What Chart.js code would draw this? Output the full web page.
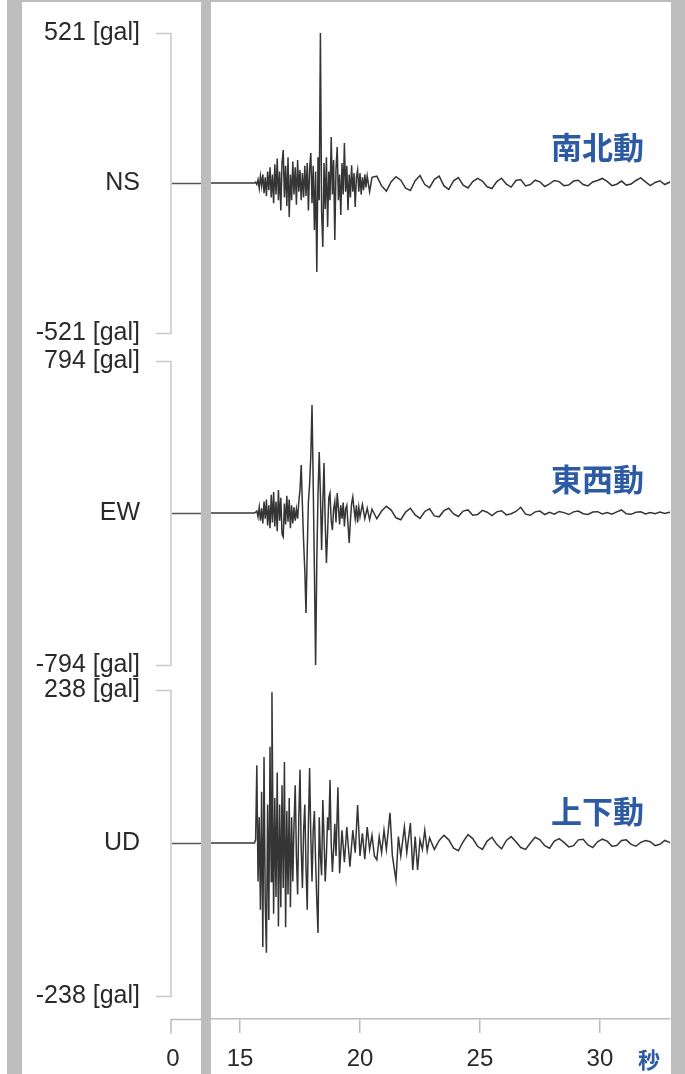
<!DOCTYPE html>
<html>
<head>
<meta charset="utf-8">
<script src="https://cdn.jsdelivr.net/npm/chart.js@4.4.1/dist/chart.umd.min.js"></script>
<style>
  html, body { margin: 0; padding: 0; background: #fff; }
  #wrap { position: relative; width: 685px; height: 1074px; overflow: hidden; }
  canvas { position: absolute; left: 0; top: 0; filter: blur(0.45px); }
  .bar { position: absolute; background: #bdbdbd; }
  .lbl { position: absolute; font-family: "Noto Sans CJK JP", sans-serif; font-weight: 700; color: #2d5ba3; white-space: nowrap; }
</style>
</head>
<body>
<div id="wrap">
  <canvas id="c" width="685" height="1074"></canvas>
  <div class="bar" style="left:7px;top:0;width:15px;height:1074px"></div>
  <div class="bar" style="left:201px;top:0;width:10px;height:1074px"></div>
  <div class="bar" style="left:671px;top:0;width:14px;height:1074px"></div>
  <div class="bar" style="left:7px;top:0;width:678px;height:2px"></div>
  <div class="lbl" style="left:551px;top:125px;font-size:31px;line-height:42px">南北動</div>
  <div class="lbl" style="left:551px;top:457px;font-size:31px;line-height:42px">東西動</div>
  <div class="lbl" style="left:551px;top:789px;font-size:31px;line-height:42px">上下動</div>
  <div class="lbl" style="left:638px;top:1044px;font-size:22px;line-height:28px">秒</div>
</div>
<script>
// ---- data (time [s], acceleration [gal]) ----
const X_TICKS = [15, 20, 25, 30];
const NS_TICKS = [-521, 0, 521];
const EW_TICKS = [-794, 0, 794];
const UD_TICKS = [-238, 0, 238];
const TRACE_NAMES = ['NS', 'EW', 'UD'];

const NS_TRACE = [
[13.7,0],[15.6,0],[15.65,3],
[15.70,-5],[15.75,12],[15.80,-18],[15.85,25],[15.90,-10],[15.95,30],[16.00,-35],[16.05,20],[16.10,-45],[16.15,40],[16.20,-25],[16.25,55],[16.30,-50],[16.35,30],[16.40,-70],[16.45,65],[16.50,-40],[16.55,85],[16.60,-60],[16.65,40],[16.70,-95],[16.75,70],[16.80,115],[16.85,-50],[16.90,60],[16.95,-80],[17.00,90],[17.05,-118],[17.10,30],[17.15,-60],[17.20,75],[17.25,-40],[17.30,55],[17.35,-75],[17.40,80],[17.45,-30],[17.50,45],[17.55,-60],[17.60,35],[17.65,-50],[17.70,60],[17.75,-45],[17.80,70],[17.85,-95],[17.90,50],[17.95,104],[18.00,-70],[18.05,60],[18.10,-163],[18.15,40],[18.20,-309],[18.25,90],[18.30,-60],[18.35,521],[18.40,-100],[18.45,-222],[18.50,70],[18.55,-90],[18.60,90],[18.65,-153],[18.70,40],[18.75,-60],[18.80,160],[18.85,-40],[18.90,80],[18.95,-198],[19.00,50],[19.05,125],[19.10,-60],[19.15,30],[19.20,-111],[19.25,70],[19.30,-40],[19.35,139],[19.40,-30],[19.45,60],[19.50,-94],[19.55,30],[19.60,-50],[19.65,62],[19.70,-30],[19.75,35],[19.80,-83],[19.85,20],[19.90,45],[19.95,-30],[20.00,35],[20.05,-40],[20.10,20],[20.15,-25],[20.20,30],[20.25,-15],[20.30,25],[20.40,-30],[20.50,20],
[20.7,24],[20.9,-10],[21.1,-28],[21.3,5],[21.5,22],[21.7,10],[21.9,-18],[22.1,-26],[22.3,8],[22.5,26],[22.7,-5],[22.9,-16],[23.1,13],[23.3,24],[23.5,-10],[23.7,-22],[23.9,8],[24.1,19],[24.3,-7],[24.5,-17],[24.7,5],[24.9,16],[25.1,7],[25.3,-13],[25.5,-19],[25.7,5],[25.9,17],[26.1,-4],[26.3,-14],[26.5,9],[26.7,12],[26.9,-10],[27.1,-5],[27.3,10],[27.5,4],[27.7,-12],[27.9,-3],[28.1,9],[28.3,5],[28.5,-9],[28.7,-7],[28.9,7],[29.1,10],[29.3,-5],[29.5,-10],[29.7,4],[29.9,9],[30.1,16],[30.3,6],[30.5,-9],[30.7,-4],[30.9,7],[31.1,-7],[31.3,-3],[31.5,9],[31.7,18],[31.9,4],[32.1,-9],[32.3,2],[32.5,8],[32.7,-5],[32.9,3],[33.0,-2]
];

const EW_TRACE = [
[13.7,0],[15.6,0],[15.65,4],
[15.70,10],[15.75,-20],[15.80,30],[15.85,-40],[15.90,25],[15.95,-55],[16.00,60],[16.05,-30],[16.10,70],[16.15,-65],[16.20,40],[16.25,-80],[16.30,95],[16.35,-50],[16.40,110],[16.45,-70],[16.50,60],[16.55,-95],[16.60,120],[16.65,-40],[16.70,80],[16.75,-110],[16.80,-125],[16.85,50],[16.90,-60],[16.95,90],[17.00,-45],[17.05,70],[17.10,-80],[17.15,40],[17.20,-55],[17.25,30],[17.30,-40],[17.35,20],[17.40,-30],[17.45,60],[17.50,120],[17.55,250],[17.60,40],[17.65,-150],[17.70,-300],[17.75,-522],[17.80,-200],[17.85,60],[17.90,150],[17.95,300],[18.00,564],[18.05,150],[18.10,-300],[18.15,-794],[18.20,-250],[18.25,100],[18.30,318],[18.35,100],[18.40,-193],[18.45,50],[18.50,261],[18.55,-50],[18.60,-261],[18.65,-100],[18.70,80],[18.75,104],[18.80,-40],[18.85,-89],[18.90,20],[18.95,60],[19.00,-50],[19.05,104],[19.10,30],[19.15,-60],[19.20,40],[19.25,-30],[19.30,55],[19.35,-70],[19.40,20],[19.45,40],[19.50,-60],[19.55,-157],[19.60,-40],[19.65,50],[19.70,84],[19.75,20],[19.80,-30],[19.85,40],[19.90,-50],[19.95,30],[20.00,-20],[20.10,45],[20.20,-30],[20.30,25],[20.40,-35],[20.50,20],
[20.7,-30],[20.9,10],[21.1,35],[21.3,15],[21.5,-25],[21.7,-35],[21.9,5],[22.1,25],[22.3,-10],[22.5,-28],[22.7,8],[22.9,22],[23.1,-15],[23.3,-20],[23.5,12],[23.7,25],[23.9,-5],[24.1,-18],[24.3,10],[24.5,16],[24.7,-12],[24.9,-8],[25.1,14],[25.3,4],[25.5,-14],[25.7,6],[25.9,12],[26.1,-10],[26.3,-4],[26.5,8],[26.7,30],[26.9,-6],[27.1,-12],[27.3,6],[27.5,10],[27.7,-8],[27.9,4],[28.1,-6],[28.3,8],[28.5,2],[28.7,-8],[28.9,6],[29.1,10],[29.3,-4],[29.5,-8],[29.7,5],[29.9,7],[30.1,-5],[30.3,3],[30.5,-6],[30.7,6],[30.9,16],[31.1,-4],[31.3,-7],[31.5,4],[31.7,6],[31.9,-5],[32.1,3],[32.3,-4],[32.5,5],[32.7,-3],[32.9,4],[33.0,-2]
];

const UD_TRACE = [
[13.7,0],[15.6,0],[15.65,5],
[15.70,121],[15.75,-60],[15.80,40],[15.85,-104],[15.90,80],[15.95,-162],[16.00,134],[16.05,-90],[16.10,-171],[16.15,60],[16.20,-120],[16.25,150],[16.30,-60],[16.33,235],[16.40,-110],[16.45,70],[16.50,-84],[16.55,110],[16.60,-130],[16.65,60],[16.70,-100],[16.75,90],[16.80,-70],[16.85,126],[16.90,-131],[16.95,50],[17.00,-80],[17.05,70],[17.10,-100],[17.15,40],
[17.20,-60],[17.25,30],[17.30,90],[17.35,-20],[17.40,-80],[17.45,40],[17.50,114],[17.55,-10],[17.60,-70],[17.65,20],[17.70,60],[17.75,-40],[17.80,-104],[17.85,30],[17.90,117],[17.95,10],[18.00,-60],[18.05,20],[18.10,50],[18.15,-30],[18.20,-90],[18.25,-140],[18.30,40],[18.35,-20],[18.40,-50],[18.45,67],[18.50,10],[18.55,-60],[18.60,-20],[18.65,40],[18.70,20],[18.75,98],[18.80,0],[18.85,-45],[18.90,-10],[18.95,30],[19.00,-20],[19.08,87],[19.15,-47],[19.25,20],[19.35,-30],[19.45,25],[19.58,-37],[19.7,20],[19.8,-15],[19.9,59],[20.0,-20],[20.1,15],[20.2,-25],[20.3,25],[20.4,-10],[20.5,12],[20.6,-20],[20.7,-26],[20.8,10],[20.9,-15],[21.0,20],[21.1,-10],[21.25,47],[21.35,-20],[21.5,-58],[21.6,10],[21.7,-20],[21.85,25],[21.95,-15],[22.1,31],[22.2,-42],[22.3,10],[22.4,-42],[22.5,5],[22.6,-10],[22.7,20],[22.8,-12],[22.9,8],
[23.1,-10],[23.3,4],[23.5,12],[23.7,5],[23.9,-8],[24.1,-12],[24.3,2],[24.5,13],[24.7,7],[24.9,-5],[25.1,-10],[25.3,3],[25.5,9],[25.7,-2],[25.9,-9],[26.1,4],[26.3,10],[26.5,2],[26.7,-7],[26.9,-10],[27.1,0],[27.3,9],[27.5,5],[27.7,-4],[27.9,-8],[28.1,3],[28.3,7],[28.5,1],[28.7,-6],[28.9,-4],[29.1,5],[29.3,6],[29.5,-3],[29.7,-7],[29.9,2],[30.1,6],[30.3,3],[30.5,-5],[30.7,-4],[30.9,4],[31.1,5],[31.3,-2],[31.5,-5],[31.7,1],[31.9,4],[32.1,2],[32.3,-4],[32.5,-2],[32.7,4],[32.9,1],[33.0,-2]
];

// ---- chart ----
const TXT = '#2a2a2a';
const AXIS_FONT = { family: "'Liberation Sans', Arial, sans-serif", size: 25 };
const LINE = 'rgba(25,25,25,0.88)';

function toPts(arr) { return arr.map(p => ({ x: p[0], y: p[1] })); }

function yScale(ticksArr, name, min, max, weight, stackWeight) {
  return {
    type: 'linear', position: 'left', stack: 'traces', stackWeight: stackWeight, weight: weight,
    min: min, max: max,
    grid: { display: false, drawTicks: false },
    border: { display: false },
    afterBuildTicks: s => { s.ticks = ticksArr.map(v => ({ value: v })); },
    afterFit: s => { s.width = 211; s.paddingTop = 0; s.paddingBottom = 0; },
    ticks: {
      padding: 71, color: TXT, font: AXIS_FONT, autoSkip: false,
      callback: v => (v === 0 ? name : v + ' [gal]')
    }
  };
}

const leftPanel = {
  id: 'leftPanel',
  afterDraw(chart) {
    const ctx = chart.ctx;
    const area = chart.chartArea;
    ctx.save();
    [['yNS', NS_TICKS], ['yEW', EW_TICKS], ['yUD', UD_TICKS]].forEach(([id, tk]) => {
      const s = chart.scales[id];
      const top = Math.round(s.getPixelForValue(tk[2])) + 0.5;
      const bot = Math.round(s.getPixelForValue(tk[0])) + 0.5;
      const zero = Math.round(s.getPixelForValue(0)) + 0.5;
      ctx.strokeStyle = '#c9c9c9';
      ctx.lineWidth = 1.5;
      ctx.beginPath();
      ctx.moveTo(156, top); ctx.lineTo(171, top); ctx.lineTo(171, bot); ctx.lineTo(156, bot);
      ctx.stroke();
      ctx.strokeStyle = '#555';
      ctx.lineWidth = 1.5;
      ctx.beginPath();
      ctx.moveTo(172, zero); ctx.lineTo(201, zero);
      ctx.stroke();
    });
    const y = area.bottom + 0.5;
    ctx.strokeStyle = '#bbb';
    ctx.lineWidth = 1.5;
    ctx.beginPath();
    ctx.moveTo(171, y); ctx.lineTo(201, y);
    ctx.moveTo(171, y); ctx.lineTo(171, y + 14);
    ctx.stroke();
    ctx.fillStyle = TXT;
    ctx.font = "24px 'Liberation Sans', Arial, sans-serif";
    ctx.textAlign = 'center';
    ctx.textBaseline = 'middle';
    ctx.fillText('0', 173, area.bottom + 40);
    ctx.restore();
  }
};

const ds = (data, axis, label) => ({
  label: label, data: toPts(data), yAxisID: axis,
  borderColor: LINE, borderWidth: 1.5, pointRadius: 0, tension: 0, fill: false
});

new Chart(document.getElementById('c'), {
  type: 'line',
  data: {
    datasets: [
      ds(NS_TRACE, 'yNS', TRACE_NAMES[0]),
      ds(EW_TRACE, 'yEW', TRACE_NAMES[1]),
      ds(UD_TRACE, 'yUD', TRACE_NAMES[2])
    ]
  },
  options: {
    responsive: false,
    animation: false,
    devicePixelRatio: 1,
    layout: { padding: { left: 0, right: 15, top: 0, bottom: 0 } },
    plugins: { legend: { display: false }, tooltip: { enabled: false } },
    scales: {
      x: {
        type: 'linear', position: 'bottom', min: 13.79, max: 32.92,
        afterBuildTicks: s => { s.ticks = X_TICKS.map(v => ({ value: v })); },
        afterFit: s => { s.height = 55; },
        grid: { display: true, drawOnChartArea: false, drawTicks: true, tickLength: 14, color: '#bbb', lineWidth: 1.5 },
        border: { display: true, color: '#bbb', width: 1.5 },
        ticks: { color: TXT, font: { family: "'Liberation Sans', Arial, sans-serif", size: 24 }, padding: 12, maxRotation: 0, autoSkip: false }
      },
      yNS: yScale(NS_TICKS, TRACE_NAMES[0], -573, 636, 3, 348),
      yEW: yScale(EW_TICKS, TRACE_NAMES[1], -862, 862, 2, 330),
      yUD: yScale(UD_TICKS, TRACE_NAMES[2], -274, 257, 1, 341)
    }
  },
  plugins: [leftPanel]
});
</script>
</body>
</html>
